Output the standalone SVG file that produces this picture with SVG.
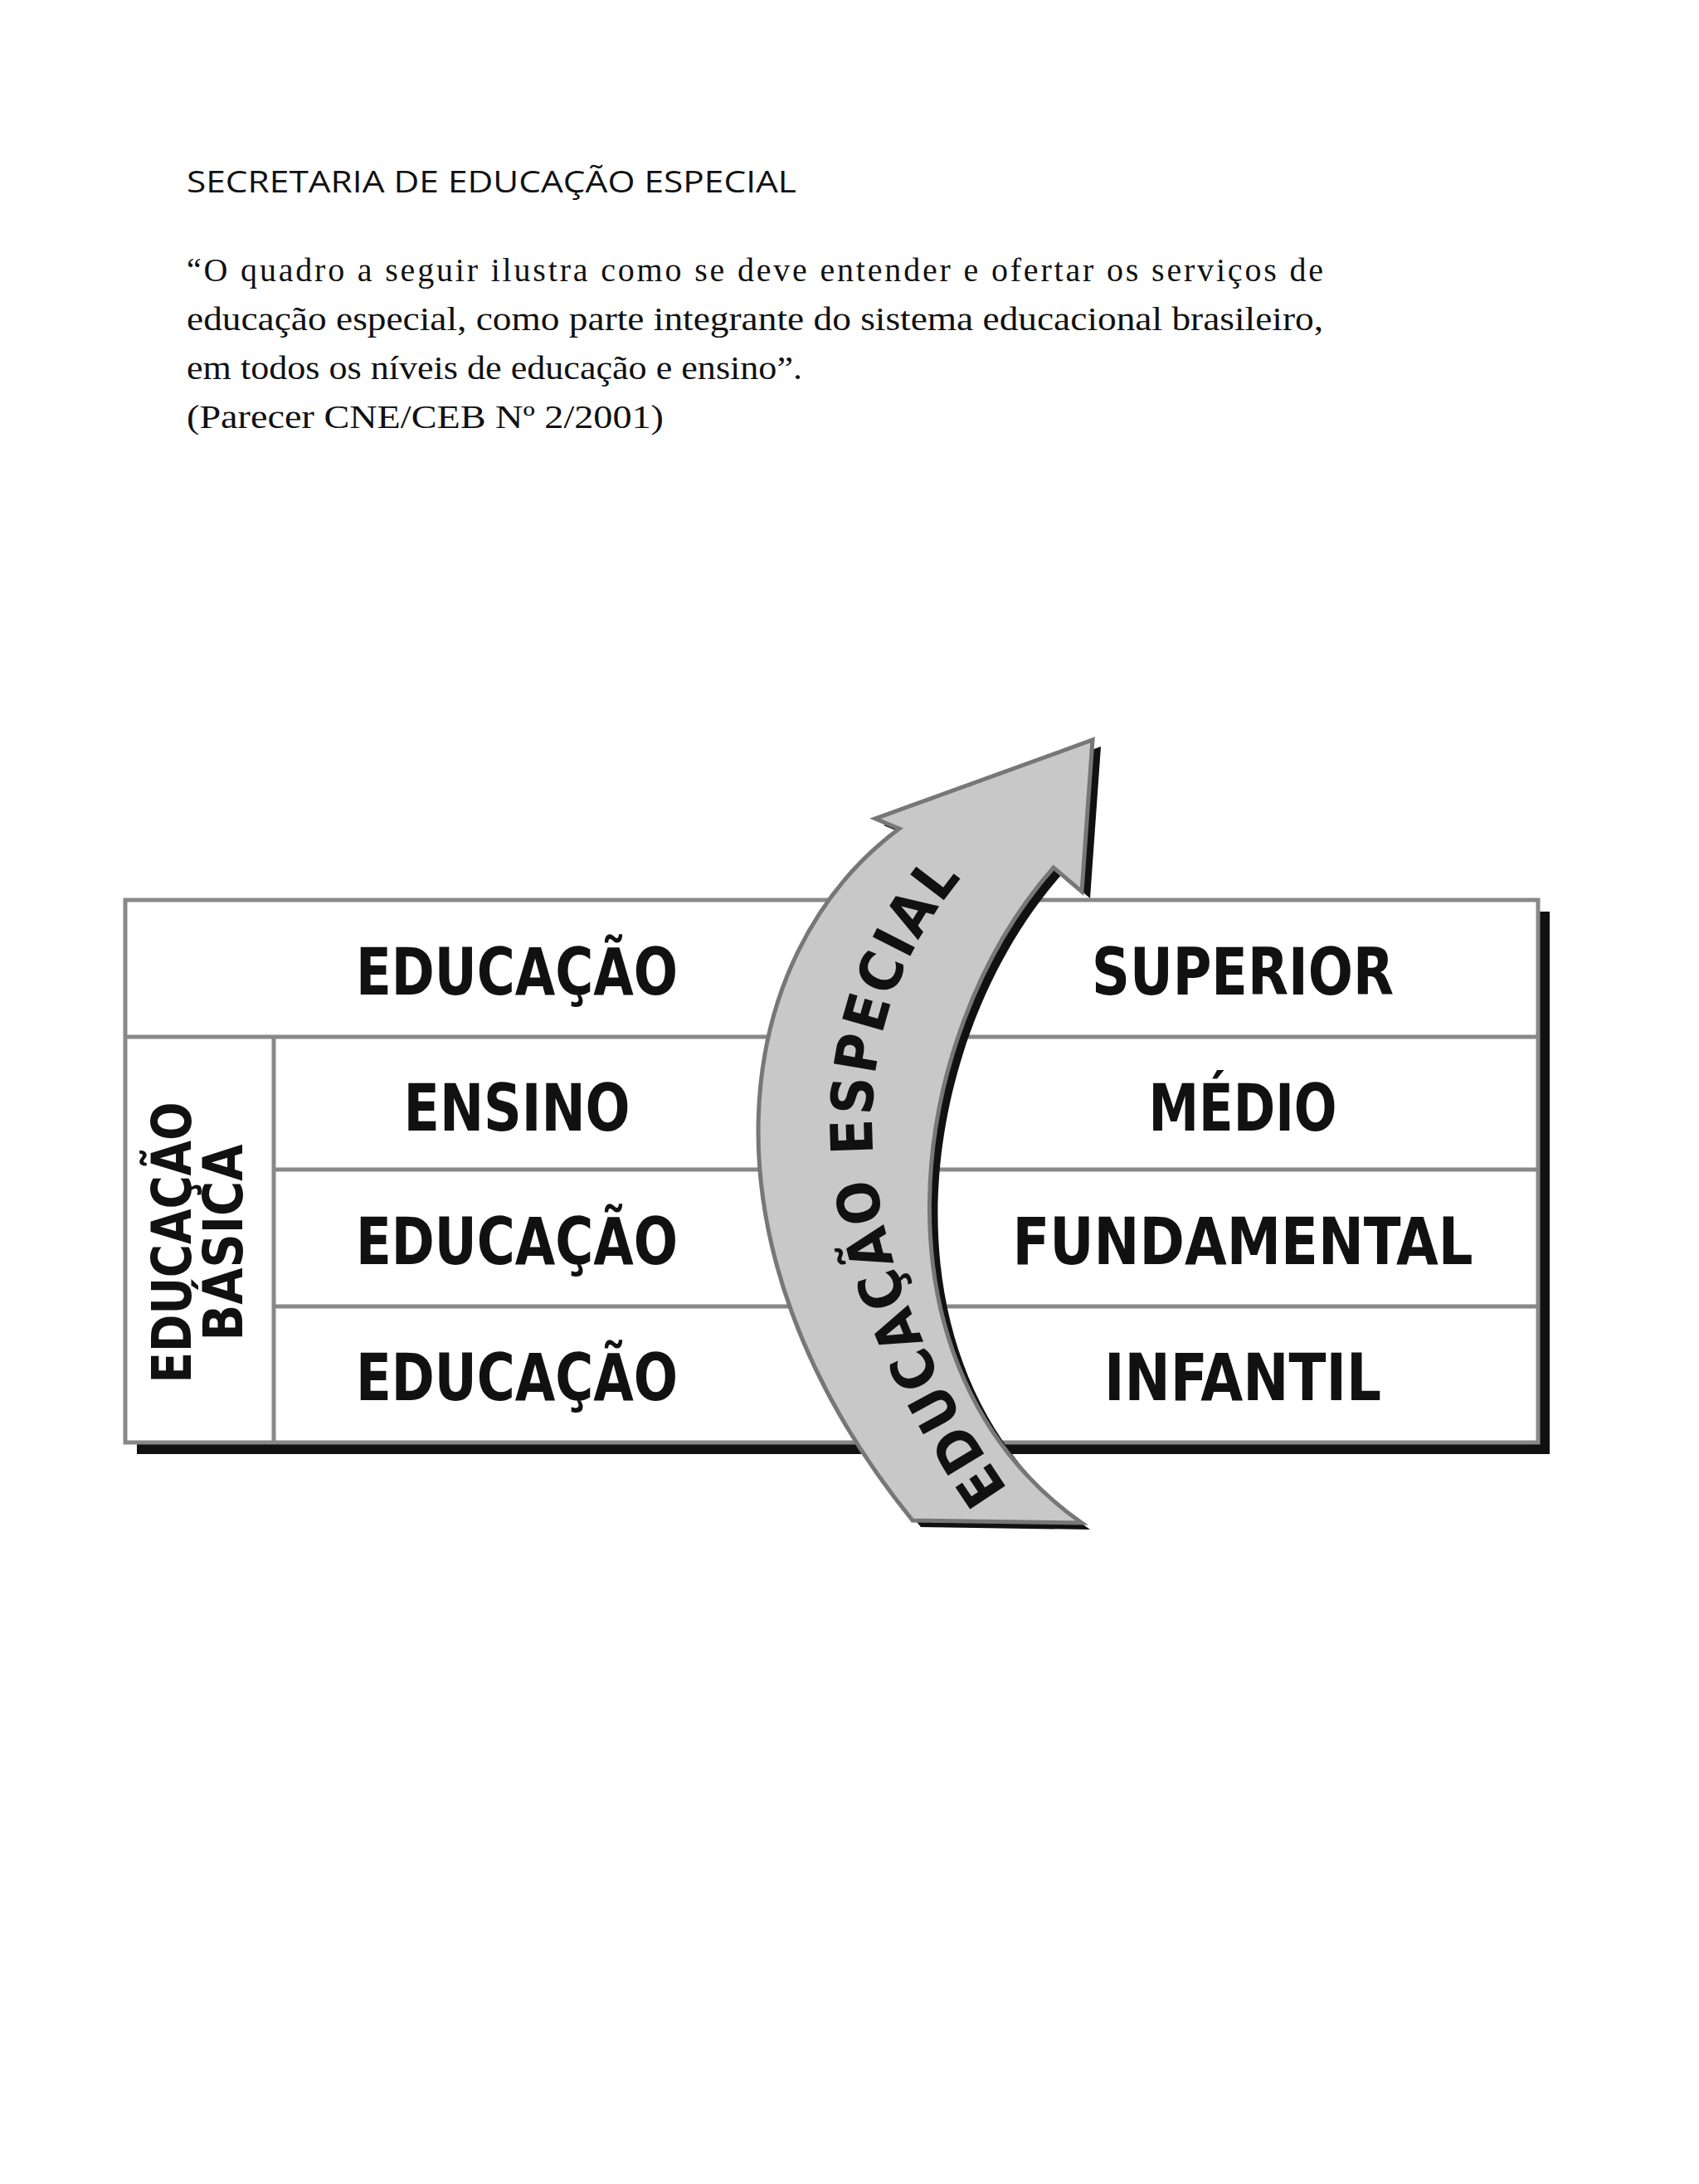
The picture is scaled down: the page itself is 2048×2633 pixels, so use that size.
<svg xmlns="http://www.w3.org/2000/svg" width="2048" height="2633" viewBox="0 0 2048 2633">
<style>
.h{font-family:"Open Sans","DejaVu Sans",sans-serif;font-size:36px;fill:#111}
.q{font-family:"Liberation Serif","DejaVu Serif",serif;font-size:40px;fill:#111}
.t{font-family:"DejaVu Sans Condensed","DejaVu Sans",sans-serif;font-weight:bold;font-size:78px;fill:#111;text-anchor:middle}
.cell{fill:#fff;stroke:#888;stroke-width:5}
.ln{stroke:#888;stroke-width:5}
</style>
<defs>
<path id="arr" d="M1317,892 L1304,1075 L1270,1046 C1090,1250 1040,1650 1304,1836 L1100,1833 C830,1500 880,1150 1084,999 L1055,987 Z"/>
<path id="tp" d="M1225,1810 C1020,1520 990,1250 1170,1045"/>
</defs>
<rect width="2048" height="2633" fill="#fff"/>
<text class="h" x="225" y="232" textLength="735" lengthAdjust="spacingAndGlyphs">SECRETARIA DE EDUCAÇÃO ESPECIAL</text>
<text class="q" x="225" y="339" textLength="1370" lengthAdjust="spacing">“O quadro a seguir ilustra como se deve entender e ofertar os serviços de</text>
<text class="q" x="225" y="398" textLength="1370" lengthAdjust="spacingAndGlyphs">educação especial, como parte integrante do sistema educacional brasileiro,</text>
<text class="q" x="225" y="457" textLength="742" lengthAdjust="spacingAndGlyphs">em todos os níveis de educação e ensino”.</text>
<text class="q" x="225" y="516" textLength="575" lengthAdjust="spacingAndGlyphs">(Parecer CNE/CEB Nº 2/2001)</text>

<g id="table">
<rect x="165" y="1099" width="1703" height="654" fill="#111"/>
<rect class="cell" x="151" y="1085" width="1703" height="654"/>
<line class="ln" x1="151" y1="1250" x2="1854" y2="1250"/>
<line class="ln" x1="330" y1="1410" x2="1854" y2="1410"/>
<line class="ln" x1="330" y1="1575" x2="1854" y2="1575"/>
<line class="ln" x1="330" y1="1250" x2="330" y2="1739"/>
</g>
<g id="labels">
<text class="t" x="623" y="1199" textLength="388" lengthAdjust="spacingAndGlyphs">EDUCAÇÃO</text>
<text class="t" x="1498" y="1199" textLength="364" lengthAdjust="spacingAndGlyphs">SUPERIOR</text>
<text class="t" x="623" y="1363" textLength="273" lengthAdjust="spacingAndGlyphs">ENSINO</text>
<text class="t" x="1498" y="1363" textLength="227" lengthAdjust="spacingAndGlyphs">MÉDIO</text>
<text class="t" x="623" y="1524" textLength="388" lengthAdjust="spacingAndGlyphs">EDUCAÇÃO</text>
<text class="t" x="1498" y="1524" textLength="555" lengthAdjust="spacingAndGlyphs">FUNDAMENTAL</text>
<text class="t" x="623" y="1688" textLength="388" lengthAdjust="spacingAndGlyphs">EDUCAÇÃO</text>
<text class="t" x="1498" y="1688" textLength="334" lengthAdjust="spacingAndGlyphs">INFANTIL</text>
</g>
<g id="basica">
<text class="t" style="font-size:66px" transform="translate(230,1498) rotate(-90)" textLength="339" lengthAdjust="spacingAndGlyphs">EDUCAÇÃO</text>
<text class="t" style="font-size:66px" transform="translate(292,1498) rotate(-90)" textLength="237" lengthAdjust="spacingAndGlyphs">BÁSICA</text>
</g>
<g id="arrow">
<use href="#arr" transform="translate(10,8)" fill="#111"/>
<use href="#arr" fill="#c8c8c8" stroke="#777" stroke-width="5" stroke-linejoin="miter"/>
<text style="font-family:'DejaVu Sans Condensed','DejaVu Sans',sans-serif;font-weight:bold;font-size:70px;fill:#111"><textPath href="#tp" startOffset="50%" text-anchor="middle" textLength="800" lengthAdjust="spacing">EDUCAÇÃO ESPECIAL</textPath></text>
</g>
</svg>
